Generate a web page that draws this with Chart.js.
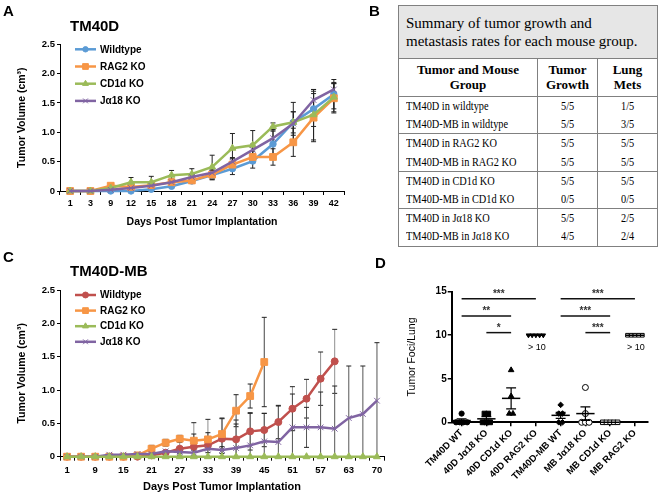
<!DOCTYPE html>
<html><head><meta charset="utf-8">
<script src="https://cdn.jsdelivr.net/npm/chart.js@4.4.0/dist/chart.umd.min.js"></script>
<style>
html,body{margin:0;padding:0;background:#fff;width:661px;height:496px;overflow:hidden;font-family:'Liberation Sans',Arial,sans-serif;}
canvas{position:absolute;display:block;}
.lbl{position:absolute;font-weight:bold;line-height:1;white-space:nowrap;color:#000;font-family:'Liberation Sans',Arial,sans-serif;}
#tbl{position:absolute;left:398px;top:5px;width:259px;border-collapse:collapse;table-layout:fixed;font-family:'Liberation Serif','Times New Roman',serif;color:#000;}
#tbl td,#tbl th{border-left:1px solid #808080;border-right:1px solid #808080;padding:0;white-space:nowrap;overflow:hidden;}
#tbl .ttl{background:#e6e6e6;font-size:15px;line-height:18px;height:52px;padding-left:7px;text-align:left;border:1px solid #808080;font-weight:normal;white-space:normal;}
#tbl .hdr th{font-size:13px;line-height:14.5px;height:37px;font-weight:bold;text-align:center;border-bottom:1px solid #808080;white-space:normal;}
#tbl .row td{font-size:12px;height:18.2px;line-height:18.2px;text-align:center;}
#tbl .row td.g{text-align:left;padding-left:7px;}
#tbl .row td span{display:inline-block;transform:scaleX(0.86);transform-origin:50% 50%;}
#tbl .row td.g span{transform-origin:0 50%;}
#tbl .grpEnd td{border-bottom:1px solid #808080;}
</style></head>
<body>
<canvas id="cA" width="350" height="232" style="left:0;top:0"></canvas>
<canvas id="cC" width="390" height="256" style="left:0;top:240px"></canvas>
<canvas id="cD" width="271" height="226" style="left:390px;top:270px"></canvas>
<table id="tbl"></table>
<div class="lbl" style="left:3px;top:3px;font-size:15px">A</div>
<div class="lbl" style="left:369px;top:3px;font-size:15px">B</div>
<div class="lbl" style="left:3px;top:249px;font-size:15px">C</div>
<div class="lbl" style="left:375px;top:255px;font-size:15px">D</div>
<div class="lbl" style="left:70px;top:18px;font-size:15px">TM40D</div>
<div class="lbl" style="left:70px;top:263px;font-size:15px">TM40D-MB</div>
<script>
// ---------- Panel A data (TM40D) ----------
const daysA = ['1','3','9','12','15','18','21','24','27','30','33','36','39','42'];
const wtA   = [0,0,0,0,0.03,0.08,0.17,0.27,0.38,0.51,0.80,1.17,1.40,1.65];
const ragA  = [0,0,0.09,0.07,0.10,0.15,0.18,0.28,0.45,0.58,0.58,0.83,1.25,1.58];
const cd1dA = [0,0,0.05,0.15,0.15,0.27,0.29,0.41,0.73,0.78,1.10,1.17,1.30,1.60];
const ja18A = [0,0,0.02,0.05,0.09,0.15,0.24,0.31,0.50,0.70,0.90,1.15,1.55,1.73];
const wtErrA   = [0,0,0,0,0.02,0.03,0.04,0.08,0.10,0.12,0.25,0.34,0.30,0.25];
const ragErrA  = [0,0,0.02,0.03,0.04,0.05,0.05,0.08,0.10,0.10,0.14,0.24,0.41,0.25];
const cd1dErrA = [0,0,0.03,0.08,0.10,0.08,0.09,0.20,0.25,0.25,0.06,0.18,0.43,0.25];
const ja18ErrA = [0,0,0.02,0.03,0.04,0.05,0.06,0.08,0.07,0.10,0.12,0.20,0.18,0.10];

// ---------- Panel C data (TM40D-MB) ----------
const daysC = ['1','5','9','12','15','18','21','24','27','30','33','36','39','42','45','48','51','54','57','60','63','66','70'];
const wtC   = [0,0,0,0,0,0,0.02,0.06,0.12,0.15,0.17,0.27,0.26,0.38,0.40,0.52,0.72,0.87,1.17,1.43,null,null,null];
const ragC  = [0,0,0,0,0,0.02,0.12,0.21,0.27,0.24,0.26,0.34,0.69,0.91,1.42,null,null,null,null,null,null,null,null];
const cd1dC = [0,0,0,0,0,0,0,0,0,0,0,0,0,0,0,0,0,0,0,0,0,0,0];
const ja18C = [0,0,0,0.03,0.03,0.04,0.04,0.08,0.07,0.06,0.12,0.10,0.13,0.17,0.23,0.22,0.44,0.44,0.44,0.42,0.58,0.64,0.84];
const wtErrC   = [0,0,0,0,0,0,0.01,0.03,0.10,0.36,0.39,0.30,0.29,0.28,0.25,0.25,0.33,0.29,0.40,0.48,null,null,null];
const ragErrC  = [0,0,0,0,0,0,0.05,0.05,0.05,0.10,0.10,0.24,0.24,0.18,0.67,null,null,null,null,null,null,null,null];
const ja18ErrC = [0,0,0,0,0,0,0,0,0.02,0.04,0.06,0.05,0.36,0.48,0.42,0.54,0.50,0.30,0.53,0.64,0.78,0.72,0.87];

// ---------- Panel B table ----------
const tblTitle = 'Summary of tumor growth and metastasis rates for each mouse group.';
const tblHead = ['Tumor and Mouse Group','Tumor Growth','Lung Mets'];
const tblGroups = ['TM40D in wildtype','TM40D-MB in wildtype','TM40D in RAG2 KO','TM40D-MB in RAG2 KO','TM40D in CD1d KO','TM40D-MB in CD1d KO','TM40D in J\u03b118 KO','TM40D-MB in J\u03b118 KO'];
const tblGrowth = ['5/5','5/5','5/5','5/5','5/5','0/5','5/5','4/5'];
const tblMets   = ['1/5','3/5','5/5','5/5','5/5','0/5','2/5','2/4'];

// ---------- Panel D data ----------
const fociCats = ['TM40D WT','40D J\u03b118 KO','40D CD1d KO','40D RAG2 KO','TM40D-MB WT','MB J\u03b118 KO','MB CD1d KO','MB RAG2 KO'];
const fociTM40D_WT = [1,0,0,0,0];
const foci40D_Ja18 = [1,1,0,0,0];
const foci40D_CD1d = [6,3,1,1];
const foci40D_RAG2 = [10,10,10,10,10];
const fociMB_WT    = [2,1,1,0,0];
const fociMB_Ja18  = [4,1,0,0,0];
const fociMB_CD1d  = [0,0,0,0,0];
const fociMB_RAG2  = [10,10,10,10,10];
const fociMean = [0.2,0.4,2.75,10,0.8,1.0,0,10];
const fociSem  = [0.2,0.25,1.2,0,0.35,0.77,0,0];
const sigFrom = [0,0,1,4,4,5];
const sigTo   = [3,2,2,7,6,6];
const sigAt   = [14.2,12.2,10.3,14.2,12.2,10.3];
const sigText = ['***','**','*','***','***','***'];
const overLabelCats = [3,7];
const overLabelText = '> 10';
const overLabelAt = 8.6;

const FONT = "'Liberation Sans', Arial, sans-serif";
Chart.defaults.font.family = FONT;
Chart.defaults.color = '#000';

// ---------- build table ----------
(function(){
  const t = document.getElementById('tbl');
  let h = '<colgroup><col style="width:139px"><col style="width:60px"><col style="width:60px"></colgroup>';
  h += '<tr><td colspan="3" class="ttl">'+tblTitle+'</td></tr>';
  h += '<tr class="hdr">'+tblHead.map(s=>'<th>'+s+'</th>').join('')+'</tr>';
  tblGroups.forEach((g,i)=>{
    h += '<tr class="row'+(i%2===1?' grpEnd':'')+'"><td class="g"><span>'+g+'</span></td><td><span>'+tblGrowth[i]+'</span></td><td><span>'+tblMets[i]+'</span></td></tr>';
  });
  t.innerHTML = h;
})();

// ---------- plugins ----------
const errorBars = {
  id:'errorBars',
  beforeDatasetsDraw(chart){
    const ctx = chart.ctx, ca = chart.chartArea, ys = chart.scales.y;
    ctx.save();
    ctx.beginPath(); ctx.rect(ca.left, 0, ca.right-ca.left, ca.bottom); ctx.clip();
    chart.data.datasets.forEach((ds, di)=>{
      if(!ds.errors) return;
      const meta = chart.getDatasetMeta(di);
      meta.data.forEach((pt,i)=>{
        const v = ds.data[i], e = ds.errors[i];
        if(v==null || !e) return;
        const x = pt.x, yt = ys.getPixelForValue(v+e), yb = ys.getPixelForValue(v-e);
        ctx.strokeStyle = ds.errColor; ctx.lineWidth = 1;
        ctx.beginPath(); ctx.moveTo(x,yt); ctx.lineTo(x,yb); ctx.stroke();
        ctx.strokeStyle = '#222';
        ctx.beginPath(); ctx.moveTo(x-2.5,yt); ctx.lineTo(x+2.5,yt); ctx.moveTo(x-2.5,yb); ctx.lineTo(x+2.5,yb); ctx.stroke();
      });
    });
    ctx.restore();
  }
};

const insideLegend = {
  id:'insideLegend',
  afterDraw(chart, args, o){
    const ctx = chart.ctx, ca = chart.chartArea;
    chart.data.datasets.forEach((ds,i)=>{
      const y = ca.top + o.dy + i*o.gap, x0 = ca.left + o.dx;
      ctx.save();
      ctx.strokeStyle = ds.borderColor; ctx.lineWidth = 2.5;
      ctx.beginPath(); ctx.moveTo(x0,y); ctx.lineTo(x0+o.len,y); ctx.stroke();
      ctx.fillStyle = ds.backgroundColor; ctx.lineWidth = 1;
      Chart.helpers.drawPoint(ctx,{pointStyle:ds.pointStyle,radius:ds.pointRadius*0.85,rotation:0,borderWidth:1},x0+o.len/2,y);
      ctx.fillStyle = '#000'; ctx.font = 'bold 10px '+FONT; ctx.textBaseline = 'middle'; ctx.textAlign='left';
      ctx.fillText(ds.label, x0+o.len+4, y+0.5);
      ctx.restore();
    });
  }
};

function series(label, data, errors, color, style, radius, order, errColor){
  return {label, data, errors, errColor, borderColor:color, backgroundColor:color, pointBackgroundColor:color,
    pointBorderColor:color, pointStyle:style, pointRadius:radius, pointBorderWidth:1, borderWidth:2.5,
    tension:0, spanGaps:false, order, clip:false};
}

function lineChart(id, labels, datasets, cfg){
  return new Chart(document.getElementById(id), {
    type:'line',
    data:{labels, datasets},
    options:{
      responsive:false, animation:false, devicePixelRatio:1,
      layout:{padding:{top:cfg.padTop,right:cfg.padRight,left:0,bottom:0}},
      plugins:{legend:{display:false},tooltip:{enabled:false},
        insideLegend:{dx:15,dy:5,gap:cfg.legGap,len:21}},
      scales:{
        x:{type:'category',offset:true,
          grid:{display:true,drawOnChartArea:false,offset:true,tickLength:4,color:'#000',tickColor:'#000'},
          border:{display:true,color:'#000',width:1},
          ticks:{font:{size:cfg.xTickSize,weight:'bold'},color:'#000',padding:cfg.xTickPad,maxRotation:0,minRotation:0,autoSkip:false,
            callback:function(v,i){return (i % cfg.every === 0) ? labels[i] : '';}},
          title:{display:true,text:'Days Post Tumor Implantation',font:{size:cfg.xTitleSize,weight:'bold'},color:'#000',padding:{top:0,bottom:cfg.xTitlePad}},
          afterFit(s){s.height=cfg.xH;}
        },
        y:{min:0,max:2.5,
          grid:{display:true,drawOnChartArea:false,tickLength:3,color:'#000',tickColor:'#000'},
          border:{display:true,color:'#000',width:1},
          ticks:{stepSize:0.5,font:{size:9.5,weight:'bold'},color:'#000',padding:2},
          title:{display:true,text:'Tumor Volume (cm\u00b3)',font:{size:10.5,weight:'bold'},color:'#000',padding:{top:16,bottom:0}},
          afterFit(s){s.width=60;}
        }
      }
    },
    plugins:[errorBars, insideLegend]
  });
}

lineChart('cA', daysA, [
  series('Wildtype', wtA, wtErrA, '#5B9BD5', 'circle', 3.2, 3, '#222'),
  series('RAG2 KO', ragA, ragErrA, '#F79646', 'rect', 4.8, 2, '#222'),
  series('CD1d KO', cd1dA, cd1dErrA, '#9BBB59', 'triangle', 4, 1, '#222'),
  series('J\u03b118 KO', ja18A, ja18ErrA, '#8064A2', 'crossRot', 4, 0, '#222')
], {padTop:44.3, padRight:6, xH:41, xTickSize:9, xTickPad:3, xTitleSize:10.5, xTitlePad:4, legGap:17.2, every:1});

lineChart('cC', daysC, [
  series('Wildtype', wtC, wtErrC, '#C0504D', 'circle', 3.5, 3, '#8f8f8f'),
  series('RAG2 KO', ragC, ragErrC, '#F79646', 'rect', 4.8, 2, '#444'),
  series('CD1d KO', cd1dC, null, '#9BBB59', 'triangle', 4, 0, '#444'),
  series('J\u03b118 KO', ja18C, ja18ErrC, '#8064A2', 'crossRot', 4, 1, '#555')
], {padTop:50, padRight:6, xH:39.3, xTickSize:9.5, xTickPad:4, xTitleSize:11, xTitlePad:2.5, legGap:15.6, every:2});

// ---------- Panel D ----------
function spread(vals, step){
  const counts={}, seen={};
  vals.forEach(v=>counts[v]=(counts[v]||0)+1);
  return vals.map(v=>{const n=counts[v]; const k=(seen[v]=(seen[v]||0)+1)-1; return (k-(n-1)/2)*step;});
}
const fociGroups = [fociTM40D_WT,foci40D_Ja18,foci40D_CD1d,foci40D_RAG2,fociMB_WT,fociMB_Ja18,fociMB_CD1d,fociMB_RAG2];
const fociStyles = [
  {s:'circle',f:'#000',r:2.6,rot:0},{s:'rect',f:'#000',r:3.4,rot:0},{s:'triangle',f:'#000',r:3.2,rot:0},{s:'triangle',f:'#000',r:2.6,rot:180},
  {s:'rectRot',f:'#000',r:2.8,rot:0},{s:'circle',f:'#fff',r:3,rot:0},{s:'rect',f:'#fff',r:3.2,rot:0},{s:'rect',f:'#fff',r:2.6,rot:0}
];
const dDatasets = fociGroups.map((vals,i)=>{
  const off = spread(vals, 0.15);
  const st = fociStyles[i];
  return {label:fociCats[i], data:vals.map((v,k)=>({x:i+off[k], y:v})), pointStyle:st.s, pointRadius:st.r,
    pointRotation:st.rot, backgroundColor:st.f, borderColor:'#000', pointBorderWidth:1, showLine:false, clip:false};
});

const dExtras = {
  id:'dExtras',
  afterDatasetsDraw(chart){
    const ctx=chart.ctx, xs=chart.scales.x, ys=chart.scales.y;
    const catW = xs.getPixelForValue(1)-xs.getPixelForValue(0);
    ctx.save();
    ctx.strokeStyle='#000';
    fociMean.forEach((m,i)=>{
      const xc = xs.getPixelForValue(i), ym = ys.getPixelForValue(m);
      ctx.lineWidth=1.5;
      ctx.beginPath(); ctx.moveTo(xc-catW*0.37,ym); ctx.lineTo(xc+catW*0.37,ym); ctx.stroke();
      const e=fociSem[i];
      if(e>0){
        const yt=ys.getPixelForValue(m+e), yb=ys.getPixelForValue(m-e);
        ctx.lineWidth=1.2;
        ctx.beginPath(); ctx.moveTo(xc,yt); ctx.lineTo(xc,yb);
        ctx.moveTo(xc-catW*0.2,yt); ctx.lineTo(xc+catW*0.2,yt);
        ctx.moveTo(xc-catW*0.2,yb); ctx.lineTo(xc+catW*0.2,yb); ctx.stroke();
      }
    });
    sigFrom.forEach((f,i)=>{
      const x1=xs.getPixelForValue(f), x2=xs.getPixelForValue(sigTo[i]), y=ys.getPixelForValue(sigAt[i]);
      ctx.lineWidth=1.5; ctx.strokeStyle='#111';
      ctx.beginPath(); ctx.moveTo(x1,y); ctx.lineTo(x2,y); ctx.stroke();
      ctx.fillStyle='#333'; ctx.font='bold 10px '+FONT; ctx.textAlign='center'; ctx.textBaseline='alphabetic';
      ctx.fillText(sigText[i], (x1+x2)/2, y-2);
    });
    overLabelCats.forEach(c=>{
      ctx.fillStyle='#000'; ctx.font='9px '+FONT; ctx.textAlign='center'; ctx.textBaseline='middle';
      ctx.fillText(overLabelText, xs.getPixelForValue(c)+1, ys.getPixelForValue(overLabelAt));
    });
    ctx.restore();
  }
};

new Chart(document.getElementById('cD'), {
  type:'scatter',
  data:{datasets:dDatasets},
  options:{
    responsive:false, animation:false, devicePixelRatio:1,
    layout:{padding:{top:21.7,right:13.7,left:0,bottom:0}},
    plugins:{legend:{display:false},tooltip:{enabled:false}},
    scales:{
      x:{type:'linear',min:-0.4,max:7.5,
        afterBuildTicks(s){s.ticks=fociCats.map((c,i)=>({value:i}));},
        grid:{display:true,drawOnChartArea:false,tickLength:4,color:'#000',tickColor:'#000',lineWidth:1.5},
        border:{display:true,color:'#000',width:2},
        ticks:{font:{size:9.5,weight:'bold'},color:'#000',padding:1,minRotation:45,maxRotation:45,autoSkip:false,
          callback:(v)=>fociCats[v]},
        afterFit(s){s.height=73.7;}
      },
      y:{min:0,max:15,
        grid:{display:true,drawOnChartArea:false,tickLength:4,color:'#000',tickColor:'#000',lineWidth:1.5},
        border:{display:true,color:'#000',width:2},
        ticks:{stepSize:5,font:{size:10,weight:'bold'},color:'#000',padding:1},
        title:{display:true,text:'Tumor Foci/Lung',font:{size:10.5},color:'#000',padding:{top:15.5,bottom:0}},
        afterFit(s){s.width=61.7;}
      }
    }
  },
  plugins:[dExtras]
});
</script>
</body></html>
